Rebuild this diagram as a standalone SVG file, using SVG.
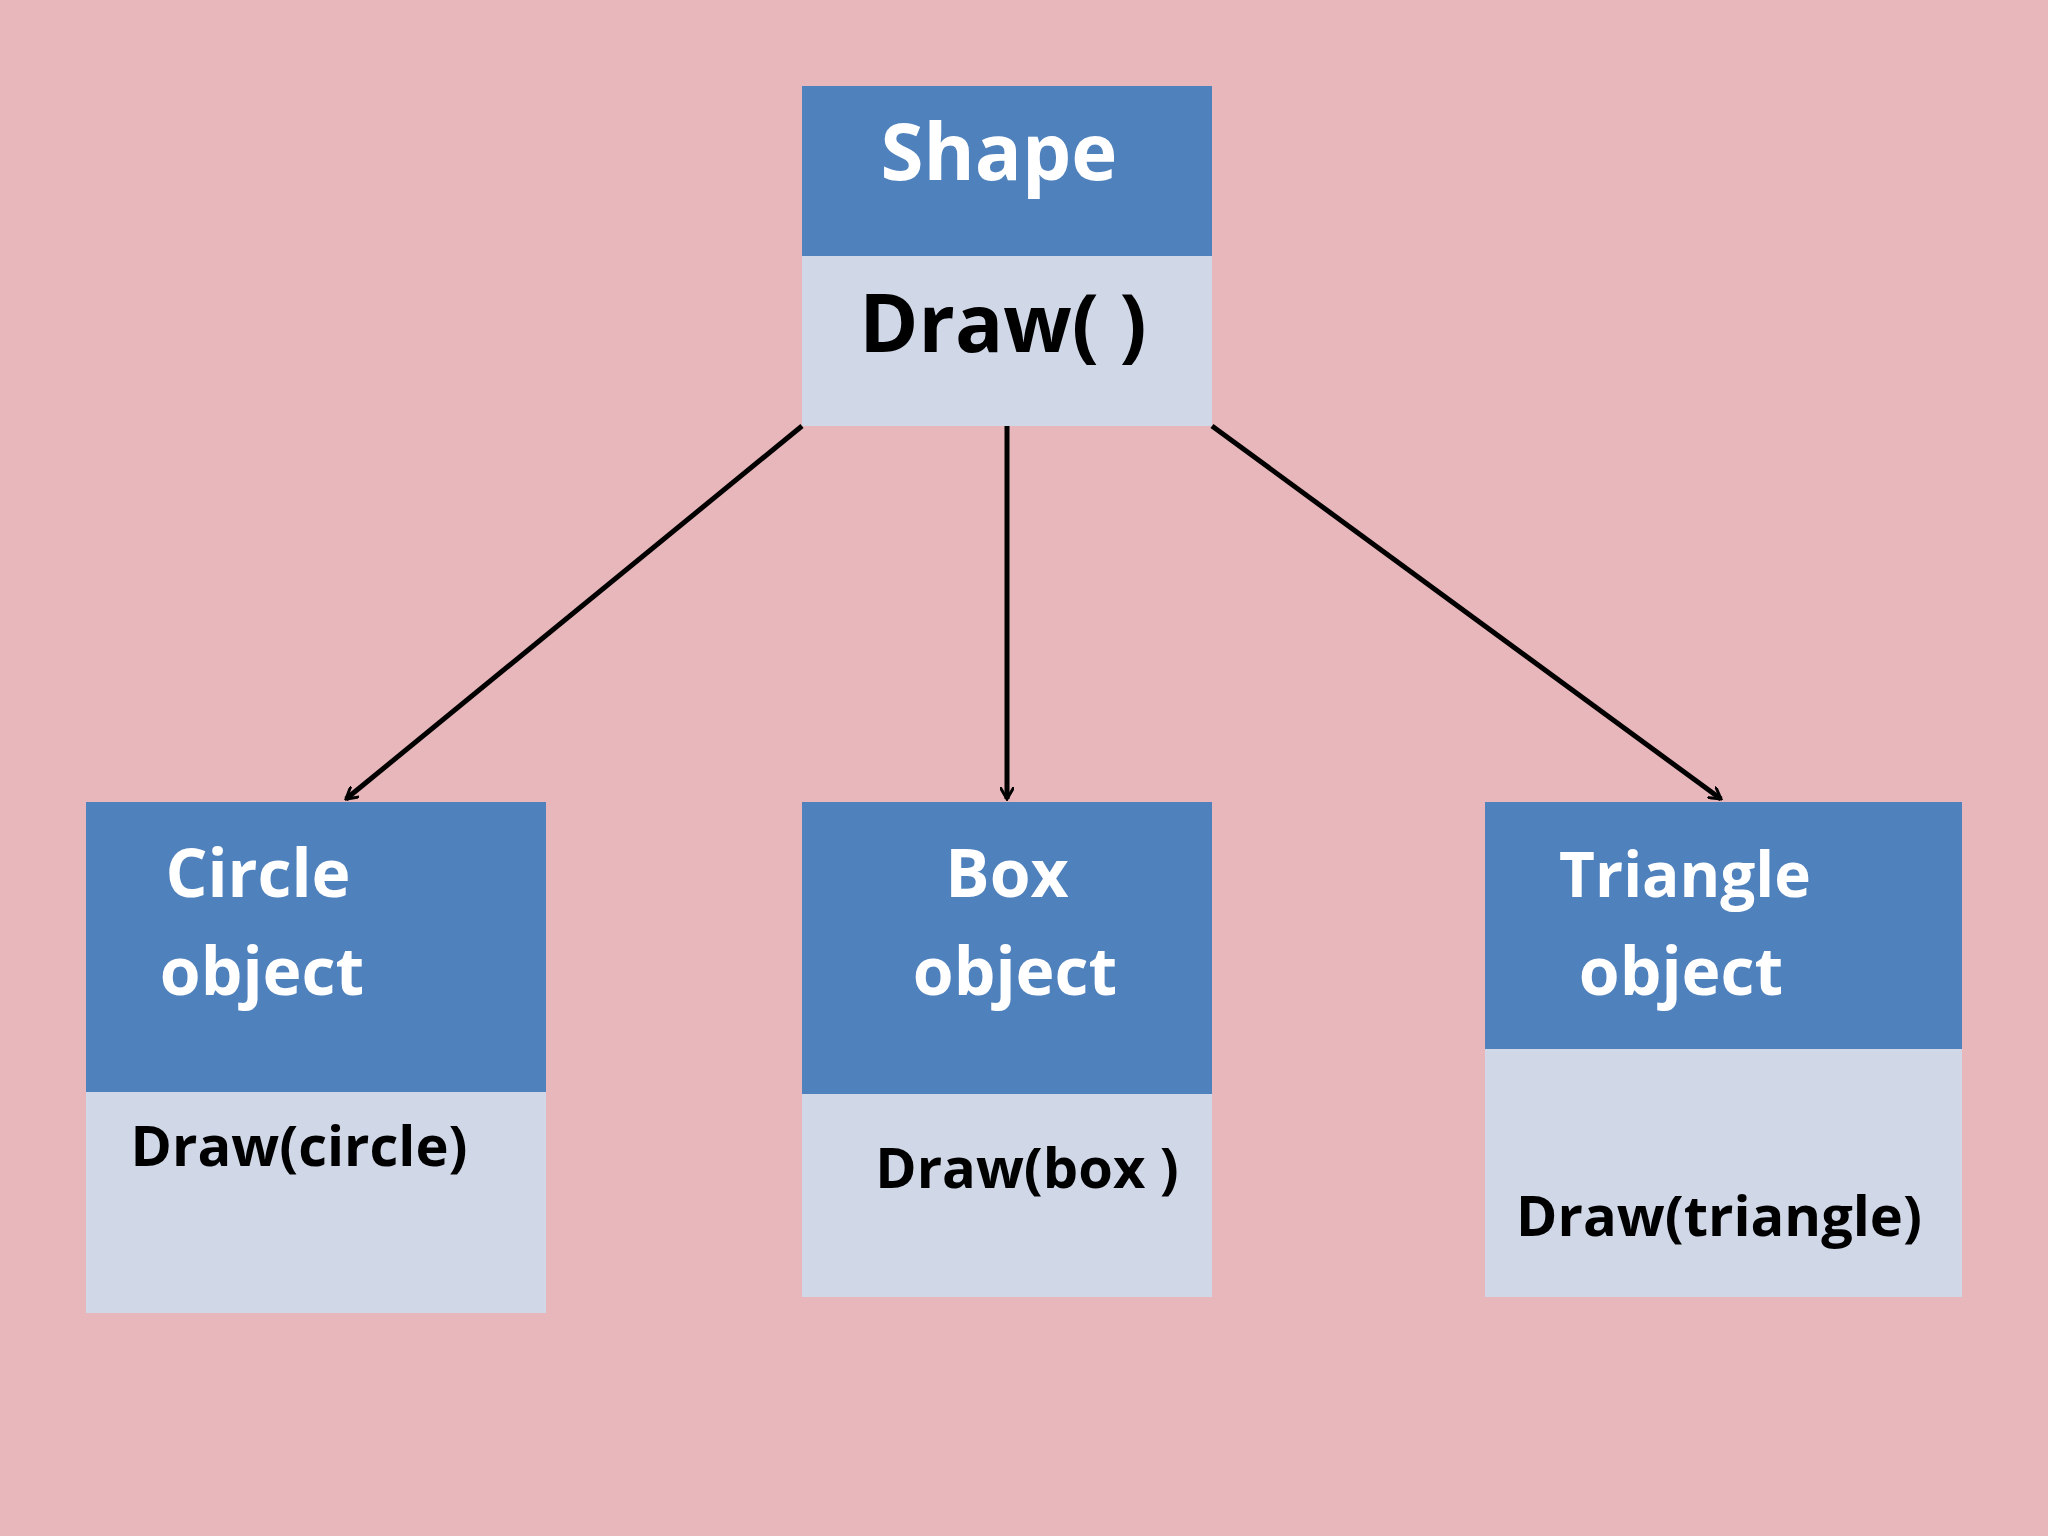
<svg xmlns="http://www.w3.org/2000/svg" width="2048" height="1536" viewBox="0 0 2048 1536">
<defs>
<style>
.hd{fill:#4f81bd}.bd{fill:#d0d8e8}
.t{font-family:"Open Sans","Noto Sans",sans-serif;font-weight:bold;text-anchor:middle}
.w{fill:#ffffff}.k{fill:#000000}
.c{stroke:#000;stroke-width:5;fill:none;marker-end:url(#a)}
</style>
<marker id="a" markerWidth="14" markerHeight="14" refX="12" refY="7" orient="auto" markerUnits="userSpaceOnUse" viewBox="0 0 14 14">
<path d="M0,0 L12,7 L0,14" fill="none" stroke="#000" stroke-width="3"/>
</marker>
</defs>
<rect width="2048" height="1536" fill="#e8b7bb"/>
<g id="shape">
<rect class="bd" x="802" y="86" width="410" height="340"/>
<rect class="hd" x="802" y="86" width="410" height="170"/>
<text class="t w" x="999" y="180" font-size="78">Shape</text>
<text class="t k" x="1003" y="352" font-size="80">Draw( )</text>
</g>
<g id="circle">
<rect class="bd" x="86" y="802" width="460" height="511"/>
<rect class="hd" x="86" y="802" width="460" height="290"/>
<text class="t w" x="258" y="897" font-size="66">Circle</text>
<text class="t w" x="262" y="995" font-size="66">object</text>
<text class="t k" x="299" y="1166" font-size="56">Draw(circle)</text>
</g>
<g id="box">
<rect class="bd" x="802" y="802" width="410" height="495"/>
<rect class="hd" x="802" y="802" width="410" height="292"/>
<text class="t w" x="1007" y="897" font-size="66">Box</text>
<text class="t w" x="1015" y="995" font-size="66">object</text>
<text class="t k" x="1027" y="1188" font-size="56">Draw(box )</text>
</g>
<g id="triangle">
<rect class="bd" x="1485" y="802" width="477" height="495"/>
<rect class="hd" x="1485" y="802" width="477" height="247"/>
<text class="t w" x="1685" y="897" font-size="62">Triangle</text>
<text class="t w" x="1681" y="995" font-size="66">object</text>
<text class="t k" x="1719" y="1236" font-size="56">Draw(triangle)</text>
</g>
<g id="connectors">
<line class="c" x1="802" y1="426" x2="346" y2="799"/>
<line class="c" x1="1007" y1="426" x2="1007" y2="799"/>
<line class="c" x1="1212" y1="426" x2="1721" y2="799"/>
</g>
</svg>
